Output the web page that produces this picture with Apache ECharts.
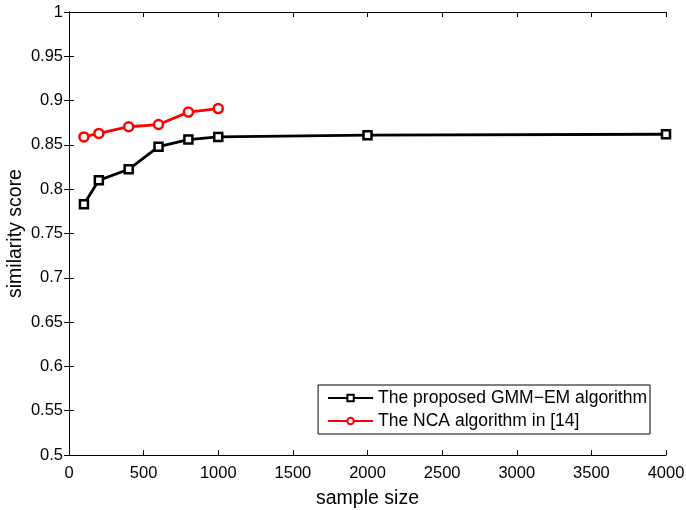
<!DOCTYPE html>
<html><head><meta charset="utf-8">
<script src="https://cdn.jsdelivr.net/npm/echarts@6/dist/echarts.min.js"></script>
<style>html,body{margin:0;padding:0;background:#fff}#c{width:686px;height:510px}</style>
</head><body><div id="c"></div>
<script>
const gmmX = [100, 200, 400, 600, 800, 1000, 2000, 4000];
const gmmY = [0.783, 0.810, 0.8225, 0.848, 0.856, 0.859, 0.861, 0.862];
const ncaX = [100, 200, 400, 600, 800, 1000];
const ncaY = [0.859, 0.863, 0.8705, 0.873, 0.887, 0.891];
const gmmName = 'The proposed GMM\u2212EM algorithm';
const ncaName = 'The NCA algorithm in [14]';
const xTicks = [0, 500, 1000, 1500, 2000, 2500, 3000, 3500, 4000];
const yTicks = [0.5, 0.55, 0.6, 0.65, 0.7, 0.75, 0.8, 0.85, 0.9, 0.95, 1];

const font = 'Liberation Sans';
const chart = echarts.init(document.getElementById('c'));
const axisLine = {show: true, lineStyle: {color: '#000', width: 1}};
const tickIn = {show: true, inside: true, length: 5, lineStyle: {color: '#000'}};
chart.setOption({
  animation: false,
  backgroundColor: '#fff',
  grid: {left: 69, right: 20, top: 12, bottom: 55, containLabel: false, outerBoundsMode: 'none'},
  legend: {
    right: 36, top: 385, orient: 'vertical', itemGap: 3, itemWidth: 45, itemHeight: 8,
    backgroundColor: '#fff', borderColor: '#000', borderWidth: 1, padding: [3, 3, 3, 9],
    textStyle: {fontFamily: font, fontSize: 17.5, color: '#000', lineHeight: 20},
    data: [gmmName, ncaName]
  },
  xAxis: [{
    type: 'value', min: 0, max: 4000, interval: 500,
    name: 'sample size', nameLocation: 'middle', nameGap: 34, nameMoveOverlap: false,
    nameTextStyle: {fontFamily: font, fontSize: 19.5, color: '#000'},
    axisLine: axisLine, axisTick: tickIn, splitLine: {show: false},
    axisLabel: {fontFamily: font, fontSize: 16.5, color: '#000', margin: 10,
      formatter: v => xTicks.includes(v) ? String(v) : ''}
  }, {
    type: 'value', min: 0, max: 4000, interval: 500, position: 'top',
    axisLine: axisLine, axisTick: tickIn, splitLine: {show: false}, axisLabel: {show: false}
  }],
  yAxis: [{
    type: 'value', min: 0.5, max: 1, interval: 0.05,
    name: 'similarity score', nameLocation: 'middle', nameGap: 43, nameMoveOverlap: false,
    nameTextStyle: {fontFamily: font, fontSize: 19.5, color: '#000'},
    axisLine: axisLine, axisTick: tickIn, splitLine: {show: false},
    axisLabel: {fontFamily: font, fontSize: 16.5, color: '#000', margin: 6,
      formatter: v => { const t = yTicks.find(y => Math.abs(y - v) < 1e-9); return t === undefined ? '' : String(t); }}
  }, {
    type: 'value', min: 0.5, max: 1, interval: 0.05, position: 'right',
    axisLine: axisLine, axisTick: tickIn, splitLine: {show: false}, axisLabel: {show: false}
  }],
  series: [{
    name: gmmName, type: 'line', xAxisIndex: 0, yAxisIndex: 0,
    data: gmmX.map((x, i) => [x, gmmY[i]]),
    symbol: 'rect', symbolSize: 8, showAllSymbol: true,
    lineStyle: {color: '#000', width: 2.8},
    itemStyle: {color: '#fff', borderColor: '#000', borderWidth: 2.5}
  }, {
    name: ncaName, type: 'line', xAxisIndex: 0, yAxisIndex: 0,
    data: ncaX.map((x, i) => [x, ncaY[i]]),
    symbol: 'circle', symbolSize: 9, showAllSymbol: true,
    lineStyle: {color: '#ff0000', width: 2.8},
    itemStyle: {color: '#fff', borderColor: '#ff0000', borderWidth: 2.5}
  }]
});
</script></body></html>
